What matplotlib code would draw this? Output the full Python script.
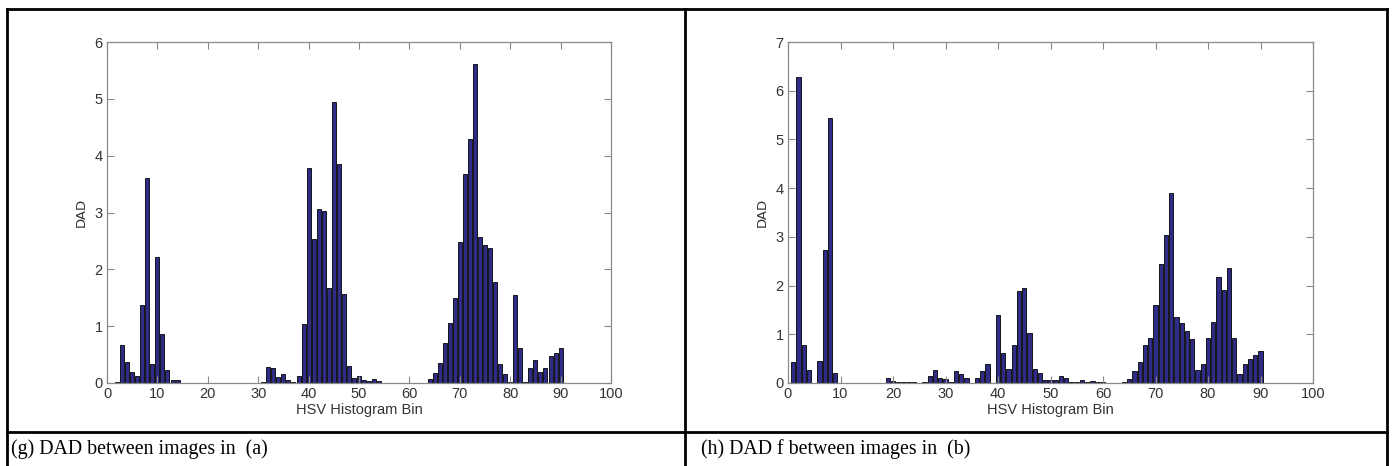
import numpy as np
import matplotlib
matplotlib.use("Agg")
import matplotlib.pyplot as plt
from matplotlib.lines import Line2D

# DAD values per HSV histogram bin (bins 1..90)
bins = np.arange(1, 91)

dad_a = [
    0.00, 0.02, 0.66, 0.37, 0.19, 0.13, 1.38, 3.61, 0.34, 2.22,
    0.86, 0.22, 0.06, 0.05, 0.00, 0.00, 0.00, 0.00, 0.00, 0.00,
    0.00, 0.00, 0.00, 0.00, 0.00, 0.00, 0.00, 0.00, 0.00, 0.00,
    0.01, 0.29, 0.26, 0.10, 0.16, 0.06, 0.02, 0.12, 1.04, 3.78,
    2.54, 3.06, 3.03, 1.67, 4.94, 3.85, 1.57, 0.30, 0.09, 0.13,
    0.06, 0.04, 0.07, 0.03, 0.00, 0.00, 0.00, 0.00, 0.00, 0.00,
    0.00, 0.00, 0.00, 0.065, 0.18, 0.35, 0.70, 1.06, 1.49, 2.48,
    3.67, 4.30, 5.62, 2.57, 2.43, 2.37, 1.77, 0.33, 0.15, 0.02,
    1.55, 0.62, 0.01, 0.27, 0.40, 0.19, 0.27, 0.48, 0.52, 0.62,
]

dad_b = [
    0.43, 6.28, 0.79, 0.26, 0.00, 0.46, 2.73, 5.45, 0.21, 0.00,
    0.00, 0.00, 0.00, 0.00, 0.00, 0.00, 0.00, 0.00, 0.10, 0.035,
    0.02, 0.02, 0.02, 0.03, 0.00, 0.03, 0.14, 0.26, 0.11, 0.08,
    0.02, 0.25, 0.18, 0.11, 0.00, 0.10, 0.25, 0.39, 0.00, 1.39,
    0.61, 0.29, 0.77, 1.89, 1.96, 1.02, 0.29, 0.20, 0.07, 0.07,
    0.07, 0.14, 0.10, 0.02, 0.02, 0.06, 0.02, 0.04, 0.02, 0.03,
    0.00, 0.00, 0.00, 0.03, 0.075, 0.24, 0.44, 0.79, 0.93, 1.61,
    2.45, 3.03, 3.90, 1.35, 1.23, 1.06, 0.90, 0.27, 0.39, 0.93,
    1.25, 2.17, 1.91, 2.37, 0.92, 0.19, 0.39, 0.49, 0.57, 0.65,
]

captions = ["(g) DAD between images in  (a)", "(h) DAD f between images in  (b)"]
ymax = [6, 7]

W, H = 1392, 466
fig = plt.figure(figsize=(W / 100, H / 100), dpi=100)
fig.patch.set_facecolor("white")

narrow = ["Liberation Sans Narrow", "Liberation Sans", "DejaVu Sans"]
bar_color = "#2e2c86"
axis_gray = "#8a8a8a"

# axes boxes in pixels: (x0, x1, ytop, ybottom)
boxes = [(107, 611, 42, 383), (788, 1313, 42, 383)]

for i, (vals, top) in enumerate(zip([dad_a, dad_b], ymax)):
    x0, x1, yt, yb = boxes[i]
    ax = fig.add_axes([x0 / W, (H - yb) / H, (x1 - x0) / W, (yb - yt) / H])
    ax.bar(bins, vals, width=0.8, color=bar_color, edgecolor="black", linewidth=0.6)
    ax.set_xlim(0, 100)
    ax.set_ylim(0, top)
    ax.set_xticks(np.arange(0, 101, 10))
    ax.set_yticks(np.arange(0, top + 1, 1))
    ax.tick_params(direction="in", top=True, right=True, length=5,
                   color=axis_gray, labelcolor="#333333", labelsize=10.5, pad=3)
    for lab in ax.get_xticklabels() + ax.get_yticklabels():
        lab.set_family(narrow)
    for sp in ax.spines.values():
        sp.set_color(axis_gray)
        sp.set_linewidth(0.9)
    ax.set_xlabel("HSV Histogram Bin", family=narrow, fontsize=10.5,
                  color="#333333", labelpad=1)
    ax.set_ylabel("DAD", family=["DejaVu Sans"], fontsize=9.5,
                  color="#333333", labelpad=5)

# table-like frame around the two panels
lw = 2.0
frame = [
    ([7, 1387], [H - 9, H - 9]),
    ([7, 1387], [H - 432, H - 432]),
    ([7, 7], [0, H - 9]),
    ([685, 685], [0, H - 9]),
    ([1387, 1387], [0, H - 9]),
]
for xs, ys in frame:
    fig.add_artist(Line2D([x / W for x in xs], [y / H for y in ys],
                          color="black", linewidth=lw))

fig.text(11 / W, (H - 449) / H, captions[0], family=["Liberation Serif", "DejaVu Serif"],
         fontsize=14.3, va="center", ha="left")
fig.text(701 / W, (H - 449) / H, captions[1], family=["Liberation Serif", "DejaVu Serif"],
         fontsize=14.3, va="center", ha="left")

fig.savefig("out.png", dpi=100)
